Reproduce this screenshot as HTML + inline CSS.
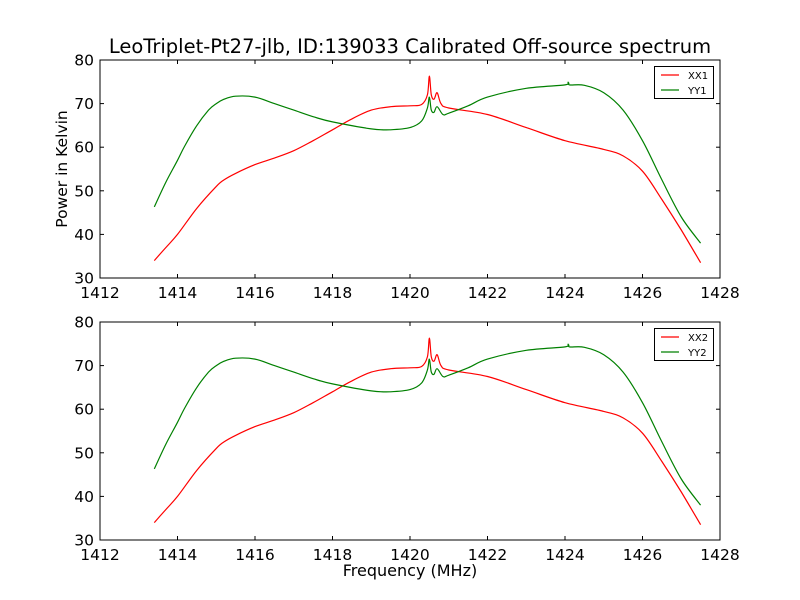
<!DOCTYPE html>
<html><head><meta charset="utf-8"><style>
body{margin:0;background:#fff}
svg{display:block;font-family:"DejaVu Sans","Liberation Sans",sans-serif}
</style></head><body>
<svg id="chart" width="800" height="600" xmlns="http://www.w3.org/2000/svg">
<rect width="800" height="600" fill="#fff"/>
<text x="410" y="53" font-size="19.5" text-anchor="middle">LeoTriplet-Pt27-jlb, ID:139033 Calibrated Off-source spectrum</text>
<text transform="translate(67,169) rotate(-90)" font-size="15.5" text-anchor="middle">Power in Kelvin</text>
<text x="410" y="576" font-size="16" text-anchor="middle">Frequency (MHz)</text>
</svg>
<script>
const xTicks=[1412,1414,1416,1418,1420,1422,1424,1426,1428];
const yTicks=[30,40,50,60,70,80];
const xxFreq=[1413.4,1413.7,1414,1414.5,1415,1415.2,1415.5,1416,1416.5,1417,1417.5,1418,1418.5,1419,1419.5,1420,1420.3,1420.45,1420.5,1420.55,1420.62,1420.7,1420.8,1421,1422,1423,1424,1425,1425.5,1426,1426.5,1427,1427.5];
const xxVals=[34,37,40,46,51,52.5,54,56,57.5,59.2,61.5,64,66.5,68.5,69.3,69.5,69.8,72,76.3,72,71,72.5,70,69,67.5,64.5,61.5,59.5,58,54.5,48,41,33.5];
const yyFreq=[1413.4,1413.7,1414,1414.2,1414.5,1414.8,1415,1415.2,1415.5,1416,1416.5,1417,1417.5,1418,1419,1419.5,1420,1420.3,1420.45,1420.5,1420.55,1420.62,1420.7,1420.85,1421,1421.5,1422,1423,1424,1424.08,1424.12,1424.5,1425,1425.5,1426,1426.5,1427,1427.5];
const yyVals=[46.3,52,57,60.5,65,68.5,70,71,71.7,71.5,70,68.5,67,65.8,64.2,64,64.5,66,69,71.5,68.5,68,69.3,67.5,67.8,69.5,71.5,73.5,74.3,74.9,74.3,74.2,72.5,68.5,61.5,52.5,44,38];
const panels=[{top:60,labels:["XX1","YY1"],name:"top"},{top:322,labels:["XX2","YY2"],name:"bottom"}];
const NS="http://www.w3.org/2000/svg";
const svg=document.getElementById('chart');
const L=100,R=720,H=218;
function mk(t,a,p){const e=document.createElementNS(NS,t);for(const k in a)e.setAttribute(k,a[k]);(p||svg).appendChild(e);return e;}
function smooth(pts){
  let d='M'+pts[0][0].toFixed(1)+','+pts[0][1].toFixed(1);
  for(let i=0;i<pts.length-1;i++){
    const p0=pts[Math.max(0,i-1)],p1=pts[i],p2=pts[i+1],p3=pts[Math.min(pts.length-1,i+2)];
    const t=1/6;
    const c1=[p1[0]+(p2[0]-p0[0])*t,p1[1]+(p2[1]-p0[1])*t];
    const c2=[p2[0]-(p3[0]-p1[0])*t,p2[1]-(p3[1]-p1[1])*t];
    d+='C'+c1.map(v=>v.toFixed(1)).join(',')+' '+c2.map(v=>v.toFixed(1)).join(',')+' '+p2.map(v=>v.toFixed(1)).join(',');
  }
  return d;
}
panels.forEach(pn=>{
  const g=mk('g',{});
  
  
  const sx=f=>L+(f-1412)/16*(R-L);
  const sy=v=>pn.top+H-(v-30)/50*H;
  const path=(fs,vs)=>smooth(fs.map((f,i)=>[sx(f),sy(vs[i])]));
  const r=mk('path',{d:path(xxFreq,xxVals),fill:'none',stroke:'#ff0000','stroke-width':1.2},g);
  
  
  const gr=mk('path',{d:path(yyFreq,yyVals),fill:'none',stroke:'#008000','stroke-width':1.2},g);
  
  
  mk('rect',{x:L,y:pn.top,width:R-L,height:H,fill:'none',stroke:'#000','stroke-width':1},g);
  xTicks.forEach(t=>{const x=sx(t);
    mk('line',{x1:x,x2:x,y1:pn.top+H,y2:pn.top+H-4,stroke:'#000'},g);
    mk('line',{x1:x,x2:x,y1:pn.top,y2:pn.top+4,stroke:'#000'},g);
    const tx=mk('text',{x:x,y:pn.top+H+20,'font-size':15.5,'text-anchor':'middle'},g);tx.textContent=t;
    
    
  });
  yTicks.forEach(t=>{const y=sy(t);
    mk('line',{x1:L,x2:L+4,y1:y,y2:y,stroke:'#000'},g);
    mk('line',{x1:R,x2:R-4,y1:y,y2:y,stroke:'#000'},g);
    const tx=mk('text',{x:L-6,y:y+5.5,'font-size':15.5,'text-anchor':'end'},g);tx.textContent=t;
    
    
  });
  const lg=mk('g',{},g);
  
  
  const ly=pn.top+6;
  mk('rect',{x:654.5,y:ly+0.5,width:59,height:32,fill:'#fff',stroke:'#000'},lg);
  ['#ff0000','#008000'].forEach((c,i)=>{
    const yy=ly+9+i*15;
    mk('line',{x1:661,x2:679,y1:yy,y2:yy,stroke:c,'stroke-width':1.2},lg);
    const tx=mk('text',{x:688,y:yy+4,'font-size':10},lg);tx.textContent=pn.labels[i];
    
    
  });
});
</script>
</body></html>
